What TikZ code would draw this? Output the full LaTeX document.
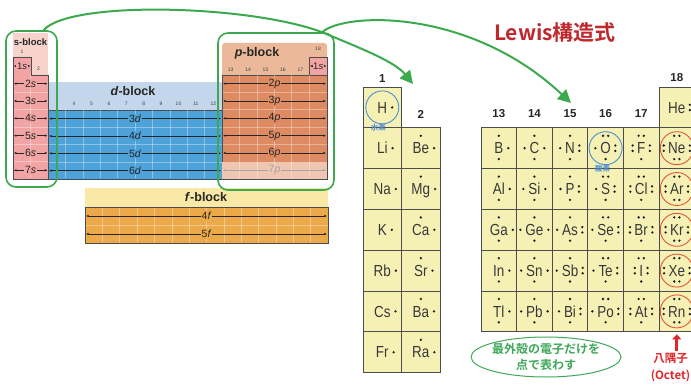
\documentclass[tikz,border=0pt]{standalone}
\usepackage{fontspec}
\setmainfont{Liberation Sans}
\newfontfamily\symfont{Liberation Sans}[FakeStretch=0.84]
\newfontfamily\jpfont{Noto Sans CJK JP Bold}
\usetikzlibrary{arrows.meta,calc,positioning,shapes.geometric}

\definecolor{spinklight}{HTML}{F7D3CB}
\definecolor{spink}{HTML}{F2A4A4}
\definecolor{dbluelight}{HTML}{C4D6EC}
\definecolor{dblue}{HTML}{4DA2D9}
\definecolor{psalmonlight}{HTML}{EBB89A}
\definecolor{psalmon}{HTML}{DE8B63}
\definecolor{psalmonfade}{HTML}{EEC6B1}
\definecolor{fyellowlight}{HTML}{F9E8A6}
\definecolor{forange}{HTML}{EBA94A}
\definecolor{cellyellow}{HTML}{F5F1B5}
\definecolor{hilite}{HTML}{3CA94E}
\definecolor{notegreen}{HTML}{3FA85A}
\definecolor{lewisred}{HTML}{C0282E}
\definecolor{octetred}{HTML}{E2563C}
\definecolor{octetlabel}{HTML}{E3262A}
\definecolor{oxyblue}{HTML}{4E8ED2}
\definecolor{edgegrey}{HTML}{4D4D4D}
\definecolor{symgrey}{HTML}{383838}
\definecolor{dotgrey}{HTML}{1F1F1F}

% one valence electron
\newcommand{\ldot}[1]{\fill[dotgrey] #1 circle[radius=1.3pt];}
% electron dots round a symbol node: #2 top, #3 right, #4 bottom, #5 left (0, 1 or 2)
\newcommand{\lewisdots}[5]{%
  \ifcase#2\or
    \ldot{($(#1.north)+(0,-6.5)$)}%
  \or
    \ldot{($(#1.north)+(-2.6,-6.5)$)}\ldot{($(#1.north)+(2.6,-6.5)$)}%
  \fi
  \ifcase#3\or
    \ldot{($(#1.east)+(4.8,0)$)}%
  \or
    \ldot{($(#1.east)+(4.3,-2.7)$)}\ldot{($(#1.east)+(4.3,2.7)$)}%
  \fi
  \ifcase#4\or
    \ldot{($(#1.south)+(0,5)$)}%
  \or
    \ldot{($(#1.south)+(-2.6,5)$)}\ldot{($(#1.south)+(2.6,5)$)}%
  \fi
  \ifcase#5\or
    \ldot{($(#1.west)+(-4.8,0)$)}%
  \or
    \ldot{($(#1.west)+(-4.3,-2.7)$)}\ldot{($(#1.west)+(-4.3,2.7)$)}%
  \fi
}

\begin{document}
\begin{tikzpicture}[x=1pt, y=-1pt,
    blockbody/.style={draw=edgegrey, line width=0.8pt},
    gridfaint/.style={draw=white, opacity=0.35, line width=0.5pt},
    orbit/.style={<->, >={Latex[length=2.6pt,width=2.4pt]}, line width=0.6pt, draw=black!85},
    orblabel/.style={inner sep=0.7pt, font=\fontsize{10.5}{10.5}\selectfont, text=black!85},
    blocktitle/.style={font=\bfseries\fontsize{12.5}{12.5}\selectfont, text=black!85},
    tinynum/.style={font=\fontsize{5}{5}\selectfont, text=black!75},
    hilitebox/.style={draw=hilite, line width=1.6pt, rounded corners=10pt, inner sep=0pt},
    bigarrow/.style={draw=hilite, line width=2pt, -{Triangle[length=13pt,width=13pt]}},
    cell/.style={draw=edgegrey, fill=cellyellow, line width=0.8pt},
    sym/.style={inner sep=0pt, text height=11.4pt, text depth=0pt, font=\symfont\fontsize{16}{16}\selectfont, text=symgrey},
    grpnum/.style={font=\bfseries\fontsize{11.5}{11.5}\selectfont, text=black!85},
    ring/.style={circle, draw=octetred, line width=0.9pt, minimum size=33pt, inner sep=0pt},
    oring/.style={ring, draw=oxyblue},
    elemname/.style={font=\jpfont\fontsize{7.5}{7.5}\selectfont, text=oxyblue, inner sep=0pt}
  ]
\path[use as bounding box, fill=white] (0,0) rectangle (691,385);
\clip (0,0) rectangle (691,385);

% header strips
\fill[spinklight] (13,33) rectangle (48,75);
\fill[dbluelight] (48,82) rectangle (222,110);
\fill[psalmonlight, rounded corners=3pt] (222,43) rectangle (327,80);
\fill[fyellowlight] (85,188) rectangle (328,207);

% s-block
\node[blocktitle, font=\bfseries\fontsize{9.5}{9.5}\selectfont] (stitle) at (30.5,42) {s-block};
\node[tinynum] at (22,51.5) {1};
\node[tinynum] at (38.5,69) {2};
\path[blockbody, fill=spink] (13,57) -- (31,57) -- (31,75) -- (48,75) -- (48,179) -- (13,179) -- cycle;
\foreach \y in {92.3,109.7,127,144.3,161.7} \draw[gridfaint] (13.5,\y) -- (47.5,\y);
\draw[gridfaint] (30.5,75.5) -- (30.5,178.5);
\draw[orbit] (13.8,66) -- node[orblabel, fill=spink, font=\fontsize{9.5}{9.5}\selectfont] {1\textit{s}} (30.5,66);
\foreach \n [count=\i] in {2,...,7}
  \draw[orbit] (13.8,{66.33+17.33*\i}) -- node[orblabel, fill=spink] {\n\textit{s}} (47.5,{66.33+17.33*\i});

% d-block
\node[blocktitle] (dtitle) at (133,91) {\textit{d}-block};
\foreach \g in {4,...,12} \node[tinynum] at ({48+17.4*(\g-2.5)},104) {\g};
\path[blockbody, fill=dblue] (48,110) rectangle (222,179);
\foreach \k in {1,...,9} \draw[gridfaint] ({48+17.4*\k},110.5) -- ({48+17.4*\k},178.5);
\foreach \y in {127.3,144.7,162} \draw[gridfaint] (48.5,\y) -- (221.5,\y);
\foreach \n [count=\i] in {3,...,6}
  \draw[orbit] (49,{101.33+17.33*\i}) -- node[orblabel, fill=dblue] {\n\textit{d}} (221,{101.33+17.33*\i});

% p-block
\node[blocktitle] (ptitle) at (257,53) {\textit{p}-block};
\node[tinynum] at (318,49) {18};
\foreach \g [count=\k] in {13,...,17} \node[tinynum] at ({222+17.4*(\k-0.5)},69.5) {\g};
\path[blockbody, fill=spink] (309.5,57) rectangle (327,75);
\draw[orbit] (310,66) -- node[orblabel, fill=spink, font=\fontsize{9.5}{9.5}\selectfont] {1\textit{s}} (326.5,66);
\path[blockbody, fill=psalmon] (222,75) rectangle (327,179);
\fill[psalmonfade] (222.4,162) rectangle (326.6,178.6);
\foreach \k in {1,...,5} \draw[gridfaint] ({222+17.4*\k},75.5) -- ({222+17.4*\k},178.5);
\foreach \y in {92.3,109.7,127,144.3} \draw[gridfaint] (222.5,\y) -- (326.5,\y);
\foreach \n [count=\i] in {2,...,6}
  \draw[orbit] (223,{66.33+17.33*\i}) -- node[orblabel, fill=psalmon] {\n\textit{p}} (326,{66.33+17.33*\i});
\draw[orbit, draw=black!35] (223,170.3) -- node[orblabel, fill=psalmonfade, text=black!35] {7\textit{p}} (326,170.3);

% f-block
\node[blocktitle] (ftitle) at (206,197) {\textit{f}-block};
\path[blockbody, fill=forange] (85,207) rectangle (328,243);
\foreach \k in {1,...,13} \draw[gridfaint] ({85+17.36*\k},207.5) -- ({85+17.36*\k},242.5);
\draw[gridfaint] (85.5,225) -- (327.5,225);
\foreach \n [count=\i] in {4,5}
  \draw[orbit] (86,{198+18*\i}) -- node[orblabel, fill=forange] {\n\textit{f}} (327,{198+18*\i});

% highlighted blocks and where they lead
\node[hilitebox, minimum width=51pt, minimum height=156pt] (sbox) at (31.5,109) {};
\node[hilitebox, minimum width=116pt, minimum height=157pt] (pbox) at (276,111.5) {};
\coordinate (pjoin) at ($(pbox.north)+(46,0)$);
\coordinate (hdrop) at (413,84);
\coordinate (odrop) at (571,103);
\draw[bigarrow] ($(sbox.north)+(12,0)$) .. controls (70,0) and (250,5) .. (pjoin)
  .. controls (365,50) and (395,62) .. (hdrop);
\draw[bigarrow] (pjoin) .. controls (345,12) and (470,8) .. (odrop);

\node[font=\jpfont\fontsize{21}{21}\selectfont, text=lewisred] (lewis) at (555,33) {Lewis構造式};

% Lewis table
\path[cell] (659,87) rectangle (694.6,127.8);
\node[sym] (He) at (676.8,107.4) {He};
\lewisdots{He}{0}{2}{0}{0}
\foreach \grp/\cx/\cw/\st/\ly/\dt/\dr/\db/\dl/\elems in {
    1/382.3/38.5/0/79/0/1/0/0/{H,Li,Na,K,Rb,Cs,Fr},
    2/420.8/38.5/1/114/1/1/0/0/{Be,Mg,Ca,Sr,Ba,Ra},
    13/498.8/35.6/1/114/1/1/1/0/{B,Al,Ga,In,Tl},
    14/534.4/35.6/1/114/1/1/1/1/{C,Si,Ge,Sn,Pb},
    15/570.0/35.6/1/114/1/2/1/1/{N,P,As,Sb,Bi},
    16/605.6/35.6/1/114/2/2/1/1/{O,S,Se,Te,Po},
    17/641.2/35.6/1/114/2/2/1/2/{F,Cl,Br,I,At},
    18/676.8/35.6/1/78/2/2/2/2/{Ne,Ar,Kr,Xe,Rn}}{
  \node[grpnum] (g\grp) at (\cx,\ly) {\grp};
  \foreach \sy [count=\rowi from \st] in \elems {
    \path[cell] ({\cx-\cw/2},{87+40.8*\rowi}) rectangle ({\cx+\cw/2},{127.8+40.8*\rowi});
    \node[sym] (\sy) at (\cx,{107.4+40.8*\rowi}) {\sy};
    \lewisdots{\sy}{\dt}{\dr}{\db}{\dl}
  }
}

\foreach \sy in {Ne,Ar,Kr,Xe,Rn} \node[ring] (ring-\sy) at (\sy) {};
\node[oring] (ring-H) at (H) {};
\node[oring] (ring-O) at (O) {};
\node[elemname, below=0pt of ring-H, xshift=-4pt] (hname) {水素};
\node[elemname, below=0pt of ring-O, xshift=-3pt] (oname) {酸素};

\node[ellipse, draw=notegreen, line width=1pt, minimum width=150pt, minimum height=40pt,
  inner xsep=-9pt, inner ysep=-3pt, align=center, text=notegreen,
  font=\jpfont\fontsize{12}{15.5}\selectfont] (note) at (546,357)
  {最外殻の電子だけを\\点で表わす};

\node[align=center, text=octetlabel, font=\jpfont\fontsize{11.5}{17}\selectfont, inner sep=1pt] (octet) at (670.5,367) {八隅子\\(Octet)};
\draw[line width=3.2pt, draw=octetlabel, -{Triangle[length=5pt,width=9pt]}, shorten >=6pt] (octet.north -| ring-Rn) -- (ring-Rn);
\end{tikzpicture}
\end{document}
